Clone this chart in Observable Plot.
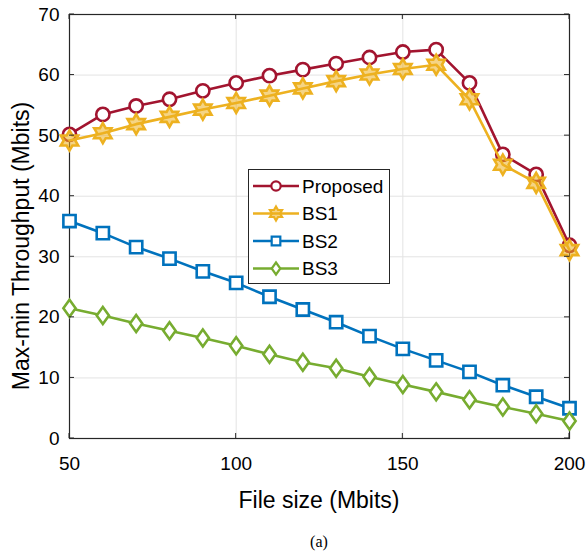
<!DOCTYPE html>
<html>
<head>
<meta charset="utf-8">
<script src="https://cdn.jsdelivr.net/npm/d3@7"></script>
<script src="https://cdn.jsdelivr.net/npm/@observablehq/plot@0.6"></script>
<style>
  html, body { margin: 0; padding: 0; background: #fff; }
  #wrap { position: relative; width: 587px; height: 556px; font-family: "Liberation Sans", Arial, sans-serif; }
  #caption { position: absolute; left: 269px; width: 100px; top: 534px; line-height: 16px; text-align: center; font-family: "Liberation Serif", "Times New Roman", serif; font-size: 16px; color: #000; }
</style>
</head>
<body>
<div id="wrap"></div>
<script>
// ---- data ----
const fileSizes = [50, 60, 70, 80, 90, 100, 110, 120, 130, 140, 150, 160, 170, 180, 190, 200];
const proposed = [50.2, 53.5, 54.9, 56.0, 57.4, 58.7, 59.9, 60.9, 61.9, 62.9, 63.8, 64.2, 58.7, 46.9, 43.6, 31.9];
const bs1      = [49.2, 50.4, 51.9, 53.1, 54.3, 55.4, 56.6, 57.8, 59.0, 60.1, 61.0, 61.7, 56.0, 45.2, 42.2, 31.1];
const bs2      = [35.9, 33.9, 31.6, 29.7, 27.6, 25.7, 23.4, 21.3, 19.2, 16.9, 14.8, 12.9, 11.0, 8.8, 6.9, 5.0];
const bs3      = [21.5, 20.3, 19.0, 17.8, 16.6, 15.3, 13.9, 12.6, 11.6, 10.2, 8.9, 7.7, 6.4, 5.2, 4.1, 2.9];
const seriesNames = ["Proposed", "BS1", "BS2", "BS3"];
const xTicks = [50, 100, 150, 200];
const yTicks = [0, 10, 20, 30, 40, 50, 60, 70];

// ---- styles ----
const colors = {Proposed: "#A2142F", BS1: "#EDB120", BS2: "#0072BD", BS3: "#77AC30"};
const FONT = "Liberation Sans, Arial, Helvetica, sans-serif";

// custom marker shapes (d3 symbol-type objects)
const hexagram = {
  draw(ctx, size) {
    const R = Math.sqrt(size / Math.PI);
    const r = R / Math.sqrt(3);
    for (let i = 0; i < 12; i++) {
      const a = Math.PI / 6 * i - Math.PI / 2;
      const rr = i % 2 === 0 ? R : r;
      const px = rr * Math.cos(a), py = rr * Math.sin(a);
      if (i === 0) ctx.moveTo(px, py); else ctx.lineTo(px, py);
    }
    ctx.closePath();
  }
};
const squareSym = {
  draw(ctx, size) {
    const h = Math.sqrt(size / Math.PI) * 0.72;
    ctx.moveTo(-h, -h); ctx.lineTo(h, -h); ctx.lineTo(h, h); ctx.lineTo(-h, h); ctx.closePath();
  }
};
const diamondSym = {
  draw(ctx, size) {
    const R = Math.sqrt(size / Math.PI);
    const w = R * 0.72;
    ctx.moveTo(0, -R); ctx.lineTo(w, 0); ctx.lineTo(0, R); ctx.lineTo(-w, 0); ctx.closePath();
  }
};
const circleSym = {
  draw(ctx, size) {
    const R = Math.sqrt(size / Math.PI) * 0.78;
    ctx.moveTo(R, 0); ctx.arc(0, 0, R, 0, 2 * Math.PI);
  }
};
const symbols = {Proposed: circleSym, BS1: hexagram, BS2: squareSym, BS3: diamondSym};

const valuesBy = {Proposed: proposed, BS1: bs1, BS2: bs2, BS3: bs3};
const data = seriesNames.flatMap(s => fileSizes.map((x, i) => ({series: s, x, y: valuesBy[s][i]})));

const W = 587, H = 515;
const ink = "#262626";

const marks = [
  Plot.gridY(yTicks.slice(1, -1), {stroke: "#e3e3e3", strokeOpacity: 1, strokeWidth: 1}),
  Plot.gridX(xTicks.slice(1, -1), {stroke: "#e3e3e3", strokeOpacity: 1, strokeWidth: 1}),
  Plot.axisX(xTicks, {tickSize: 0, tickPadding: 18, fontSize: 19, fill: "#000", label: null}),
  Plot.axisY(yTicks, {tickSize: 0, tickPadding: 10, fontSize: 19, fill: "#000", label: null}),
  Plot.frame({stroke: ink, strokeWidth: 1.2})
];
for (const s of seriesNames) {
  const d = data.filter(e => e.series === s);
  marks.push(Plot.line(d, {x: "x", y: "y", stroke: colors[s], strokeWidth: 2.6}));
  marks.push(Plot.dot(d, {x: "x", y: "y", stroke: colors[s], fill: s === "BS1" ? colors[s] : "white", fillOpacity: s === "BS1" ? 0.55 : 1, strokeWidth: 2.6, symbol: symbols[s], r: s === "BS1" ? 10 : 8.5}));
}

const plot = Plot.plot({
  width: W, height: H,
  marginLeft: 69, marginRight: 18, marginTop: 14, marginBottom: H - 438,
  style: {fontFamily: FONT, background: "white", color: "#000"},
  x: {domain: [50, 200], label: null},
  y: {domain: [0, 70], label: null},
  marks
});

// inward tick marks on all four sides, positioned with the plot's scales
const sx = plot.scale("x"), sy = plot.scale("y");
const svg = d3.select(plot);
const x0 = 69, x1 = W - 18, y0 = 438, y1 = 14, tl = 5;
const tg = svg.append("g").attr("stroke", ink).attr("stroke-width", 1);
for (const v of xTicks) {
  const px = sx.apply(v);
  tg.append("line").attr("x1", px).attr("x2", px).attr("y1", y0).attr("y2", y0 - tl);
  tg.append("line").attr("x1", px).attr("x2", px).attr("y1", y1).attr("y2", y1 + tl);
}
for (const v of yTicks) {
  const py = sy.apply(v);
  tg.append("line").attr("y1", py).attr("y2", py).attr("x1", x0).attr("x2", x0 + tl);
  tg.append("line").attr("y1", py).attr("y2", py).attr("x1", x1).attr("x2", x1 - tl);
}
// axis titles
svg.append("text").attr("x", 319).attr("y", 508).attr("text-anchor", "middle")
  .attr("font-family", FONT).attr("font-size", 23).attr("fill", "#000").text("File size (Mbits)");
svg.append("text").attr("transform", "translate(29,246) rotate(-90)").attr("text-anchor", "middle")
  .attr("font-family", FONT).attr("font-size", 23).attr("fill", "#000").text("Max-min Throughput (Mbits)");

// legend
const lg = svg.append("g");
lg.append("rect").attr("x", 248.5).attr("y", 169.5).attr("width", 141).attr("height", 114)
  .attr("fill", "white").attr("stroke", ink).attr("stroke-width", 1);
seriesNames.forEach((s, i) => {
  const cy = 186 + i * 27.5;
  lg.append("line").attr("x1", 253).attr("x2", 299).attr("y1", cy).attr("y2", cy)
    .attr("stroke", colors[s]).attr("stroke-width", 2.6);
  const path = d3.symbol(symbols[s], Math.PI * (s === "BS1" ? 7 : 6) ** 2)();
  lg.append("path").attr("d", path).attr("transform", `translate(276,${cy})`)
    .attr("stroke", colors[s]).attr("stroke-width", 2.2)
    .attr("fill", s === "BS1" ? colors[s] : "white").attr("fill-opacity", s === "BS1" ? 0.55 : 1);
  lg.append("text").attr("x", 302).attr("y", cy).attr("dy", "0.36em").attr("text-anchor", "start")
    .attr("font-family", FONT).attr("font-size", 19).attr("fill", "#000").text(s);
});

const wrap = document.getElementById("wrap");
wrap.appendChild(plot);
const cap = document.createElement("div");
cap.id = "caption";
cap.textContent = "(a)";
wrap.appendChild(cap);
</script>
</body>
</html>
